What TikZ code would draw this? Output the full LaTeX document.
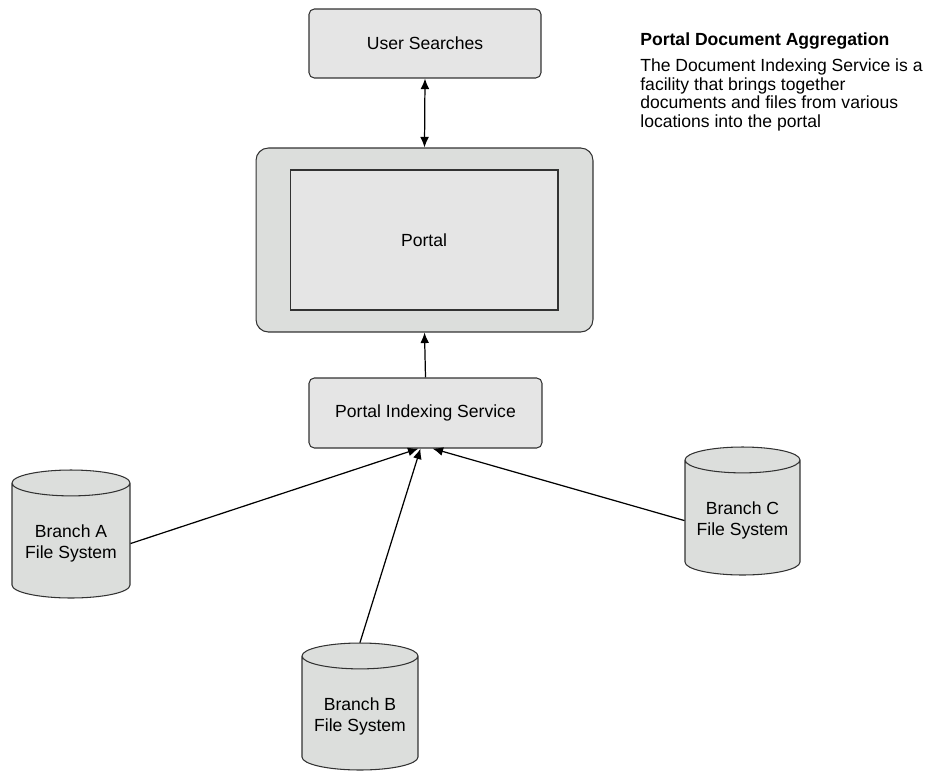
\documentclass[tikz,border=0pt]{standalone}
\usepackage{fontspec}
\setmainfont{Liberation Sans}
\usetikzlibrary{positioning,arrows.meta,shapes.geometric}
\definecolor{frameGray}{RGB}{220,222,220}
\definecolor{lineGray}{RGB}{50,50,50}
\tikzset{%
  font=\fontsize{10}{12}\selectfont,>={Latex[length=6pt,width=5pt]},
  block/.style    = {rectangle, draw=lineGray, fill=gray!20, rounded corners=3pt, align=center, line width=0.6pt},
  frame/.style    = {rectangle, draw=lineGray, fill=frameGray, rounded corners=7pt, line width=0.6pt},
  inner/.style    = {rectangle, draw=lineGray, fill=gray!20, line width=0.6pt},
  store/.style    = {cylinder, shape border rotate=90, aspect=0.25, anchor=shape center, draw=lineGray, fill=frameGray, align=center, line width=0.6pt},
  line/.style     = {draw, line width=0.7pt}
}
\begin{document}
\begin{tikzpicture}[x=0.02cm,y=-0.02cm]
	\useasboundingbox (0,0) rectangle (950,771);
	% top and portal
	\node[block,minimum width=4.64cm,minimum height=1.38cm] (search) at (425,43.5) {User Searches};
	\node[frame,minimum width=6.74cm,minimum height=3.68cm] (portalframe) at (424.5,240) {};
	\node[inner,minimum width=5.36cm,minimum height=2.8cm] (portal) at (424,240) {Portal};
	\node[block,minimum width=4.66cm,minimum height=1.4cm] (indexer) at (425.5,413) {Portal Indexing Service};
	% branch file systems
	\begin{scope}[every node/.append style={store}]
	\node[minimum width=2.36cm,minimum height=2.56cm] (branchA) at (71,534) {Branch A\\File System};
	\node[minimum width=2.32cm,minimum height=2.54cm] (branchB) at (360,706.5) {Branch B\\File System};
	\node[minimum width=2.3cm,minimum height=2.56cm] (branchC) at (742.5,511) {Branch C\\File System};
	\end{scope}
	% connectors
	\draw[line,<->] (search.south) -- (portalframe.north);
	\draw[line,->] (indexer.north) -- (portalframe.south);
	\draw[line,->] (branchA.east) -- ([xshift=-0.14cm]indexer.south);
	\draw[line,->] (branchB.north) -- ([xshift=-0.1cm]indexer.south);
	\draw[line,->] (branchC.west) -- ([xshift=0.14cm]indexer.south);
	% description
	\node[anchor=north west,align=left,inner sep=0pt,font=\fontsize{10}{10.5}\selectfont] (note) at (640,32)
	  {\textbf{Portal Document Aggregation}\\[4.8pt]
	   The Document Indexing Service is a\\
	   facility that brings together\\
	   documents and files from various\\
	   locations into the portal};
\end{tikzpicture}
\end{document}
